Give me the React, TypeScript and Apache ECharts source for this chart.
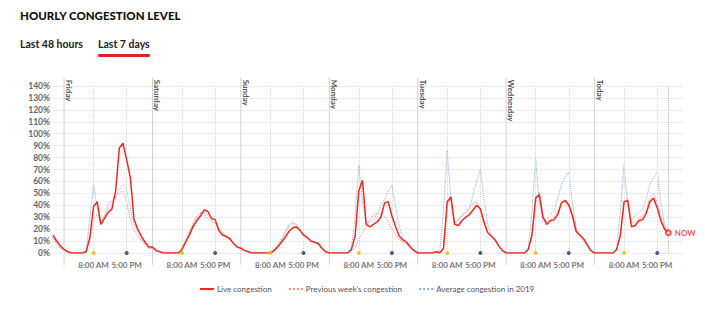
import React, { useEffect, useRef } from "react";
import * as echarts from "echarts";

// ---- data (hourly, percent) ----
const startHour = -3; // Thursday 21:00, hours counted from Friday 00:00
const nowHour = 164; // Today 20:00
const dayNames = ["Friday", "Saturday", "Sunday", "Monday", "Tuesday", "Wednesday", "Today"];
const tickHours = [8, 17];
const tickNames = ["8:00 AM", "5:00 PM"];
const yTicks = [0, 10, 20, 30, 40, 50, 60, 70, 80, 90, 100, 110, 120, 130, 140];

const liveThu = [15, 10, 6];
const liveFri = [3, 1, 0, 0, 0, 0, 1, 13, 39, 43, 24, 29, 34, 37, 52, 88, 92, 78, 63, 28, 20, 14, 9, 5];
const liveSat = [5, 2, 1, 0, 0, 0, 0, 0, 3, 9, 15, 22, 27, 31, 36, 35, 29, 28, 19, 15, 14, 12, 8, 5];
const liveSun = [4, 2, 1, 0, 0, 0, 0, 0, 0, 2, 5, 9, 13, 18, 21, 22, 19, 15, 13, 10, 9, 8, 4, 1];
const liveMon = [0, 0, 0, 0, 0, 0, 3, 14, 52, 61, 24, 22, 24, 26, 30, 42, 43, 31, 22, 14, 11, 9, 5, 2];
const liveTue = [0, 0, 0, 0, 0, 1, 0, 4, 43, 47, 24, 23, 27, 30, 32, 36, 40, 37, 26, 17, 14, 11, 6, 2];
const liveWed = [0, 0, 0, 0, 0, 0, 3, 15, 46, 49, 30, 24, 27, 28, 32, 42, 44, 40, 31, 18, 15, 12, 7, 2];
const liveToday = [0, 0, 0, 0, 0, 0, 3, 15, 43, 44, 22, 23, 27, 28, 33, 43, 46, 38, 27, 20, 17];

const prevThu = [13, 8, 4];
const prevFri = [3, 1, 0, 0, 0, 0, 1, 12, 28, 32, 24, 30, 37, 43, 47, 50, 52, 42, 28, 19, 14, 10, 7, 4];
const prevSat = [4, 2, 1, 0, 0, 0, 0, 0, 4, 10, 17, 24, 29, 33, 34, 32, 28, 25, 20, 16, 13, 11, 8, 5];
const prevSun = [4, 2, 1, 0, 0, 0, 0, 0, 0, 3, 6, 10, 16, 22, 25, 24, 20, 16, 13, 10, 9, 7, 4, 1];
const prevMon = [0, 0, 0, 0, 0, 0, 2, 4, 12, 17, 22, 28, 32, 33, 33, 31, 26, 20, 15, 11, 9, 7, 4, 2];
const prevTue = [0, 0, 0, 0, 0, 1, 1, 4, 40, 45, 25, 28, 31, 34, 37, 42, 43, 35, 24, 17, 14, 11, 6, 2];
const prevWed = [0, 0, 0, 0, 0, 0, 3, 14, 42, 51, 30, 26, 28, 30, 35, 42, 45, 42, 33, 19, 15, 11, 6, 2];
const prevToday = [0, 0, 0, 0, 0, 0, 3, 14, 41, 46, 25, 26, 29, 31, 36, 46, 50, 42, 30, 22, 18];

const avgThu = [13, 8, 4];
const avgFri = [3, 1, 0, 0, 0, 0, 2, 30, 58, 38, 24, 32, 42, 44, 47, 53, 58, 52, 38, 24, 17, 11, 7, 4];
const avgSat = [4, 2, 1, 0, 0, 0, 0, 0, 4, 11, 18, 25, 31, 34, 33, 29, 26, 25, 21, 17, 14, 11, 8, 5];
const avgSun = [4, 2, 1, 0, 0, 0, 0, 0, 1, 3, 7, 12, 18, 24, 26, 24, 19, 15, 12, 10, 9, 7, 4, 1];
const avgMon = [0, 0, 0, 0, 0, 0, 5, 30, 74, 42, 25, 26, 28, 33, 40, 45, 52, 57, 38, 22, 13, 8, 5, 2];
const avgTue = [0, 0, 0, 0, 0, 1, 3, 35, 86, 45, 24, 28, 32, 35, 38, 48, 60, 70, 45, 24, 15, 10, 5, 2];
const avgWed = [0, 0, 0, 0, 0, 0, 4, 35, 79, 42, 26, 29, 32, 36, 46, 57, 64, 68, 42, 22, 15, 10, 5, 2];
const avgToday = [0, 0, 0, 0, 0, 0, 4, 35, 74, 40, 26, 32, 34, 37, 45, 57, 63, 68, 42, 24, 18];

const live = [...liveThu, ...liveFri, ...liveSat, ...liveSun, ...liveMon, ...liveTue, ...liveWed, ...liveToday];
const prev = [...prevThu, ...prevFri, ...prevSat, ...prevSun, ...prevMon, ...prevTue, ...prevWed, ...prevToday];
const avg = [...avgThu, ...avgFri, ...avgSat, ...avgSun, ...avgMon, ...avgTue, ...avgWed, ...avgToday];

const toPoints = (arr: number[]) => arr.map((v, i) => [startHour + i, v]);

const FONT = "Lato, 'Open Sans', sans-serif";
const RED = "#f3281e";

export default function App() {
  const ref = useRef<HTMLDivElement>(null);

  useEffect(() => {
    if (!ref.current) return;
    const chart = echarts.init(ref.current, undefined, { renderer: "svg" });

    const dayStarts = dayNames.map((_, d) => d * 24);
    const tickPositions: number[] = [];
    dayStarts.forEach((s) => tickHours.forEach((h) => tickPositions.push(s + h)));

    const markLines: any[] = [];
    tickPositions.forEach((x) =>
      markLines.push([
        { coord: [x, 140], lineStyle: { color: "#d8d8d8", type: "dotted", width: 1 } },
        { coord: [x, 0] },
      ])
    );
    markLines.push([
      { coord: [nowHour, 140], lineStyle: { color: "#bdbdbd", type: "dotted", width: 1 } },
      { coord: [nowHour, 0] },
    ]);

    const lastLive = live[live.length - 1];

    chart.setOption({
      animation: false,
      textStyle: { fontFamily: FONT },
      title: {
        text: "HOURLY CONGESTION LEVEL",
        left: 20,
        top: 9,
        padding: 0,
        textStyle: { fontSize: 11.5, fontWeight: 900, color: "#111", fontFamily: FONT },
      },
      graphic: [
        {
          type: "text",
          left: 20,
          top: 38,
          style: { text: "Last 48 hours", fontSize: 10.5, fontWeight: "bold", fill: "#222", fontFamily: FONT },
        },
        {
          type: "text",
          left: 98,
          top: 38,
          style: { text: "Last 7 days", fontSize: 10.5, fontWeight: "bold", fill: "#222", fontFamily: FONT },
        },
        {
          type: "rect",
          left: 98,
          top: 54,
          shape: { width: 52, height: 3, r: 1 },
          style: { fill: "#e8201b" },
        },
      ],
      legend: {
        left: 199,
        top: 285,
        padding: 0,
        itemGap: 16,
        itemWidth: 14,
        itemHeight: 8,
        itemStyle: { opacity: 0 },
        textStyle: { fontSize: 8, color: "#555", fontFamily: FONT, padding: [0, 0, 0, -2] },
        data: ["Live congestion", "Previous week's congestion", "Average congestion in 2019"],
      },
      grid: { left: 53, right: 22, top: 86, bottom: 65 },
      xAxis: {
        type: "value",
        min: startHour,
        max: 168,
        interval: 1,
        axisLine: { show: false },
        axisTick: { show: false },
        splitLine: { show: false },
        axisLabel: {
          margin: 8,
          fontSize: 8,
          fontWeight: "bold",
          color: "#777",
          formatter: (v: number) => {
            const m = ((v % 24) + 24) % 24;
            const idx = tickHours.indexOf(m);
            return idx >= 0 && v >= 0 && v < 168 ? tickNames[idx] : "";
          },
        },
      },
      yAxis: {
        type: "value",
        min: yTicks[0],
        max: yTicks[yTicks.length - 1],
        interval: 10,
        axisLine: { show: false },
        axisTick: { show: false },
        splitLine: { lineStyle: { color: "#ececec", width: 1 } },
        axisLabel: {
          margin: 3,
          fontSize: 8.5,
          fontWeight: "bold",
          color: "#666",
          formatter: "{value}%",
        },
      },
      series: [
        {
          name: "guides",
          type: "line",
          data: [],
          clip: false,
          silent: true,
          z: 1,
          markLine: {
            silent: true,
            symbol: ["none", "none"],
            label: { show: false },
            data: markLines,
          },
        },
        {
          name: "days",
          type: "custom",
          data: dayStarts.map((s) => [s, 0]),
          encode: { x: 0, y: 1 },
          clip: false,
          silent: true,
          z: 2,
          renderItem: (params: any, api: any) => {
            const x = api.value(0);
            const top = api.coord([x, 147]);
            const bottom = api.coord([x, -10]);
            return {
              type: "group",
              children: [
                {
                  type: "line",
                  shape: { x1: top[0], y1: top[1], x2: bottom[0], y2: bottom[1] },
                  style: { stroke: "#d2d2d2", lineWidth: 1 },
                },
                {
                  type: "text",
                  x: top[0] + 1,
                  y: top[1] + 2,
                  rotation: -Math.PI / 2,
                  style: {
                    text: dayNames[params.dataIndex],
                    fontSize: 8,
                    fontFamily: FONT,
                    fontWeight: "bold",
                    fill: "#555",
                    align: "left",
                    verticalAlign: "bottom",
                  },
                },
              ],
            };
          },
        },
        {
          name: "Average congestion in 2019",
          type: "line",
          data: toPoints(avg),
          symbol: "none",
          z: 3,
          itemStyle: { color: "#88aee0" },
          lineStyle: { color: "#88aee0", width: 1, type: "dotted" },
        },
        {
          name: "Previous week's congestion",
          type: "line",
          data: toPoints(prev),
          symbol: "none",
          z: 4,
          itemStyle: { color: "#f08a86" },
          lineStyle: { color: "#f08a86", width: 1, type: "dotted" },
        },
        {
          name: "Live congestion",
          type: "line",
          data: toPoints(live),
          symbol: "none",
          z: 5,
          itemStyle: { color: RED },
          lineStyle: { color: RED, width: 1.5 },
        },
        {
          name: "now",
          type: "scatter",
          data: [[nowHour, lastLive]],
          symbol: "emptyCircle",
          symbolSize: 5,
          z: 7,
          clip: false,
          itemStyle: { color: RED, borderColor: RED, borderWidth: 1.2 },
          label: {
            show: true,
            position: "right",
            distance: 3,
            formatter: "NOW",
            color: RED,
            fontSize: 8,
            fontWeight: "bold",
          },
        },
        {
          name: "am",
          type: "scatter",
          data: dayStarts.map((s) => [s + tickHours[0], 0]),
          symbolSize: 4,
          clip: false,
          z: 6,
          itemStyle: { color: "#f7b500" },
        },
        {
          name: "pm",
          type: "scatter",
          data: dayStarts.map((s) => [s + tickHours[1], 0]),
          symbolSize: 4,
          clip: false,
          z: 6,
          itemStyle: { color: "#0b3f70" },
        },
      ],
    });

    return () => chart.dispose();
  }, []);

  return (
    <div
      ref={ref}
      style={{ position: "absolute", left: 0, top: 0, width: 705, height: 318, background: "#fff" }}
    />
  );
}
